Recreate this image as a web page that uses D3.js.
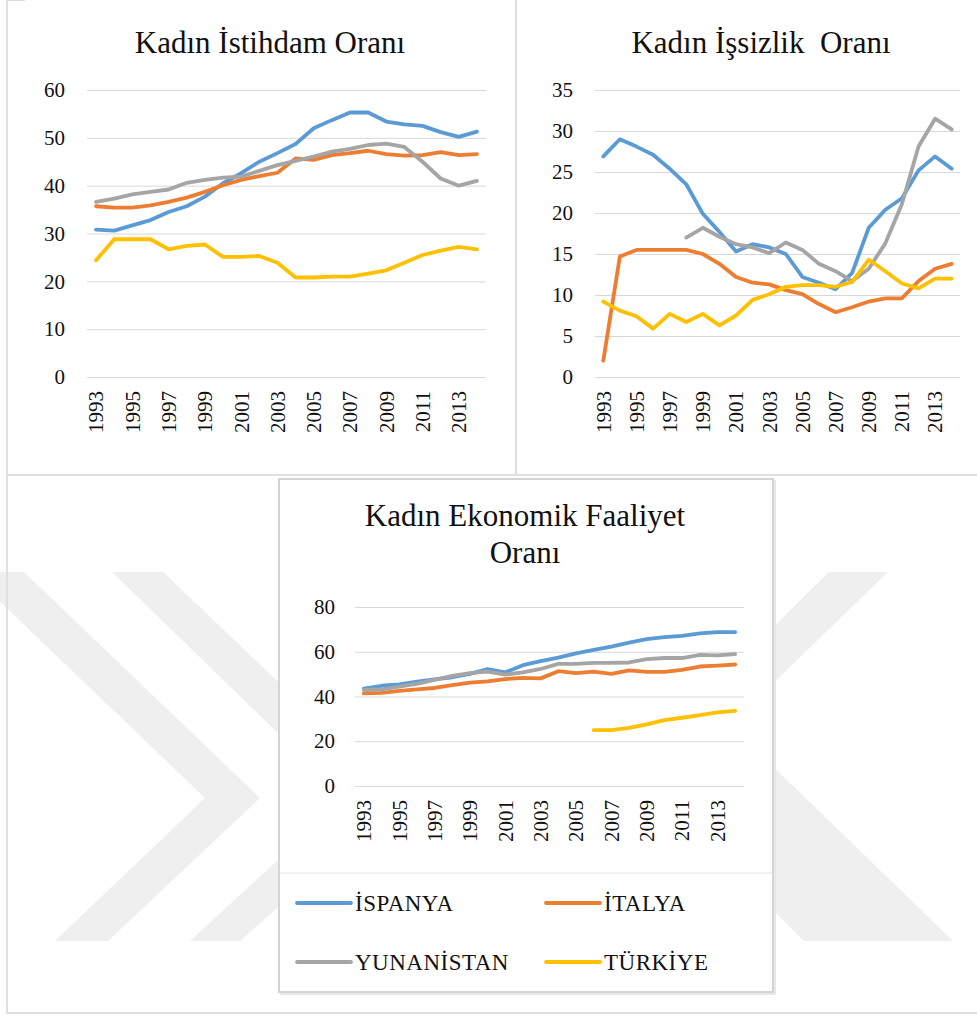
<!DOCTYPE html>
<html lang="tr">
<head>
<meta charset="UTF-8">
<title>Kadın İstihdam, İşsizlik ve Ekonomik Faaliyet Oranları</title>
<script src="https://d3js.org/d3.v7.min.js"></script>
<style>
  body { margin: 0; background: #fff; }
  svg text { font-family: "Liberation Serif", "Times New Roman", "DejaVu Serif", serif; fill: #111; }
  .grid line { stroke: #d9d9d9; stroke-width: 1px; }
  .series { fill: none; stroke-width: 3.8px; stroke-linejoin: round; stroke-linecap: round; }
  .frame { stroke: #e0e0e0; fill: none; }
</style>
</head>
<body>
<div id="chart"></div>
<script>
// categories
const years = [1993, 1994, 1995, 1996, 1997, 1998, 1999, 2000, 2001, 2002, 2003,
               2004, 2005, 2006, 2007, 2008, 2009, 2010, 2011, 2012, 2013, 2014];
const yearTicks = [1993, 1995, 1997, 1999, 2001, 2003, 2005, 2007, 2009, 2011, 2013];
const countries = ["İSPANYA", "İTALYA", "YUNANİSTAN", "TÜRKİYE"];
const colors = ["#5b9bd5", "#ed7d31", "#a5a5a5", "#ffc000"];

// Kadın İstihdam Oranı
const istihdamTicks = [0, 10, 20, 30, 40, 50, 60];
const istihdamIspanya = [30.8, 30.6, 31.7, 32.8, 34.5, 35.7, 37.7, 40.5, 42.6, 45.0, 46.8,
                         48.7, 52.0, 53.7, 55.3, 55.3, 53.4, 52.8, 52.5, 51.2, 50.2, 51.3];
const istihdamItalya = [35.7, 35.4, 35.4, 35.9, 36.6, 37.5, 38.7, 40.1, 41.2, 42.0, 42.7,
                        45.7, 45.4, 46.4, 46.8, 47.3, 46.6, 46.3, 46.4, 47.0, 46.4, 46.6];
const istihdamYunanistan = [36.6, 37.3, 38.2, 38.7, 39.2, 40.6, 41.2, 41.7, 41.9, 43.1, 44.3,
                            45.2, 46.1, 47.1, 47.7, 48.5, 48.8, 48.1, 45.0, 41.5, 40.0, 41.0];
const istihdamTurkiye = [24.4, 28.8, 28.8, 28.8, 26.7, 27.4, 27.7, 25.1, 25.1, 25.3, 23.9,
                         20.8, 20.8, 21.0, 21.0, 21.6, 22.3, 23.9, 25.5, 26.4, 27.2, 26.7];

// Kadın İşsizlik Oranı
const issizlikTicks = [0, 5, 10, 15, 20, 25, 30, 35];
const issizlikIspanya = [26.9, 29.0, 28.1, 27.1, 25.4, 23.5, 19.9, 17.7, 15.3, 16.2, 15.8,
                         15.0, 12.2, 11.5, 10.7, 12.7, 18.2, 20.4, 21.8, 25.2, 26.9, 25.4];
const issizlikItalya = [2.0, 14.7, 15.5, 15.5, 15.5, 15.5, 15.0, 13.8, 12.2, 11.5, 11.3,
                        10.6, 10.1, 8.9, 7.9, 8.5, 9.2, 9.6, 9.6, 11.7, 13.2, 13.8];
const issizlikYunanistan = [null, null, null, null, null, 17.0, 18.2, 17.1, 16.2, 15.8, 15.1,
                            16.4, 15.5, 13.8, 12.9, 11.7, 13.2, 16.3, 21.1, 28.1, 31.5, 30.2];
const issizlikTurkiye = [9.2, 8.1, 7.4, 5.9, 7.7, 6.7, 7.7, 6.3, 7.5, 9.4, 10.1,
                         11.0, 11.2, 11.2, 11.0, 11.6, 14.3, 12.9, 11.4, 10.8, 12.0, 12.0];

// Kadın Ekonomik Faaliyet Oranı
const faaliyetTicks = [0, 20, 40, 60, 80];
const faaliyetIspanya = [43.5, 44.8, 45.4, 46.6, 47.7, 48.6, 50.1, 52.2, 50.8, 54.0, 55.8,
                         57.4, 59.3, 60.8, 62.3, 64.1, 65.6, 66.5, 67.1, 68.2, 68.8, 68.8];
const faaliyetItalya = [41.4, 41.6, 42.5, 43.2, 43.8, 45.1, 46.2, 46.8, 47.8, 48.3, 48.1,
                        51.3, 50.4, 51.1, 50.1, 51.7, 51.0, 51.0, 51.9, 53.4, 53.8, 54.3];
const faaliyetYunanistan = [42.9, 43.2, 44.4, 45.6, 47.4, 49.2, 50.4, 51.1, 49.8, 50.8, 52.3,
                            54.6, 54.6, 55.0, 55.0, 55.2, 56.7, 57.2, 57.2, 58.6, 58.4, 58.9];
const faaliyetTurkiye = [null, null, null, null, null, null, null, null, null, null, null,
                         null, null, 25.0, 25.0, 26.0, 27.5, 29.4, 30.5, 31.7, 32.9, 33.6];

const W = 977, H = 1016;
const serif = "Liberation Serif, Times New Roman, DejaVu Serif, serif";

const svg = d3.select("#chart")
  .append("svg")
    .attr("width", W)
    .attr("height", H)
    .attr("font-family", serif);

svg.append("rect").attr("width", W).attr("height", H).attr("fill", "#fff");

// background watermark (chevrons)
const wm = svg.append("g").attr("fill", "#efefef");
const chevrons = [
  [[-31, 572], [24, 572], [260, 798], [108, 941], [55, 941], [205, 798]],
  [[112, 572], [163, 572], [400, 798], [240, 941], [190, 941], [345, 798]],
  [[829, 572], [888, 572], [700, 754], [645, 754]],
  [[804, 941], [953, 941], [720, 715], [575, 715]]
];
chevrons.forEach(p => wm.append("polygon").attr("points", p.map(d => d.join(",")).join(" ")));

// frame lines
svg.append("path").attr("class", "frame").attr("stroke-width", 2)
  .attr("d", "M7,0V1013H977 M7,0H25 M516,0V474 M7,475H977");

function drawPanel(cfg) {
  const g = svg.append("g");
  const x = d3.scaleBand().domain(years).range([cfg.left, cfg.right]);
  const y = d3.scaleLinear().domain([0, d3.max(cfg.ticks)]).range([cfg.bottom, cfg.top]);

  // gridlines + y labels
  g.append("g")
    .attr("class", "grid")
    .attr("transform", `translate(${cfg.left},0)`)
    .call(d3.axisLeft(y).tickValues(cfg.ticks).tickSize(-(cfg.right - cfg.left)).tickPadding(cfg.pad))
    .attr("font-family", serif)
    .attr("font-size", 21)
    .call(a => a.select(".domain").remove())
    .call(a => a.selectAll("text").attr("fill", "#111"));

  // x labels (rotated)
  g.append("g")
    .attr("transform", `translate(0,${cfg.bottom + 14})`)
    .call(d3.axisBottom(x).tickValues(yearTicks).tickSize(0).tickPadding(0))
    .attr("font-family", serif)
    .attr("font-size", 21)
    .call(a => a.select(".domain").remove())
    .call(a => a.selectAll("text")
      .attr("fill", "#111")
      .attr("transform", "rotate(-90)")
      .attr("text-anchor", "end")
      .attr("x", 0)
      .attr("y", 0)
      .attr("dy", "0.35em"));

  const line = d3.line()
    .defined(d => d != null)
    .x((d, i) => x(years[i]) + x.bandwidth() / 2)
    .y(d => y(d));

  cfg.series.forEach((s, i) => {
    g.append("path")
      .datum(s)
      .attr("class", "series")
      .attr("stroke", colors[i])
      .attr("d", line);
  });

  // title
  const t = g.append("text")
    .attr("text-anchor", "middle")
    .attr("font-size", 31);
  cfg.title.forEach((ln, i) => {
    t.append("tspan").attr("x", cfg.titleX).attr("y", cfg.titleY + i * 37).text(ln);
  });
}

drawPanel({
  left: 87, right: 486, top: 90, bottom: 377, pad: 22,
  ticks: istihdamTicks,
  series: [istihdamIspanya, istihdamItalya, istihdamYunanistan, istihdamTurkiye],
  title: ["Kadın İstihdam Oranı"], titleX: 270, titleY: 53
});

drawPanel({
  left: 595, right: 960, top: 90, bottom: 377, pad: 22,
  ticks: issizlikTicks,
  series: [issizlikIspanya, issizlikItalya, issizlikYunanistan, issizlikTurkiye],
  title: ["Kadın İşsizlik\u00a0 Oranı"], titleX: 761, titleY: 53
});

// bottom panel box
svg.append("rect")
  .attr("x", 279).attr("y", 479).attr("width", 494).attr("height", 513)
  .attr("fill", "#fff").attr("stroke", "#d4d4d4").attr("stroke-width", 2);
svg.append("path").attr("fill", "none").attr("stroke", "#e8e8e8").attr("stroke-width", 2)
  .attr("d", "M775,480V994H280");
svg.append("line").attr("x1", 279).attr("x2", 773).attr("y1", 873).attr("y2", 873)
  .attr("stroke", "#e4e4e4");

drawPanel({
  left: 355, right: 744, top: 607, bottom: 786, pad: 20,
  ticks: faaliyetTicks,
  series: [faaliyetIspanya, faaliyetItalya, faaliyetYunanistan, faaliyetTurkiye],
  title: ["Kadın Ekonomik Faaliyet", "Oranı"], titleX: 525, titleY: 526
});

// legend
const legend = svg.append("g").attr("font-family", serif);
const legendPos = [[297, 903], [546, 903], [297, 962], [546, 962]];
countries.forEach((c, i) => {
  const [lx, ly] = legendPos[i];
  const item = legend.append("g").attr("transform", `translate(${lx},${ly})`);
  item.append("line").attr("x1", 0).attr("x2", 54).attr("y1", 0).attr("y2", 0)
    .attr("stroke", colors[i]).attr("stroke-width", 3.8).attr("stroke-linecap", "round");
  item.append("text").attr("x", 58).attr("dy", "0.35em").attr("font-size", 23)
    .attr("letter-spacing", 0.5).text(c);
});
</script>
</body>
</html>
